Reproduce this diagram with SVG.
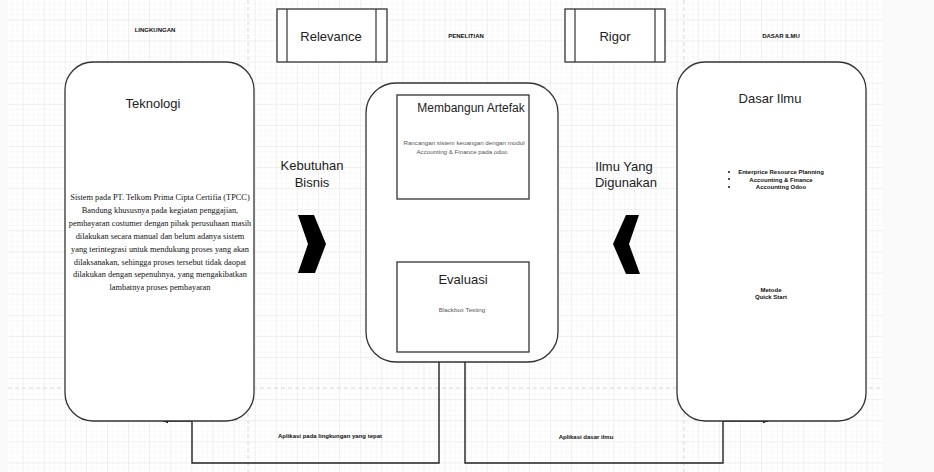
<svg xmlns="http://www.w3.org/2000/svg" width="934" height="472" viewBox="0 0 934 472">
<defs>
<pattern id="minor" patternUnits="userSpaceOnUse" x="1.5" y="-1.7" width="5.275" height="5.275">
<path d="M0 0H5.275M0 0V5.275" fill="none" stroke="#f3f3f3" stroke-width="1"/>
</pattern>
<pattern id="major" patternUnits="userSpaceOnUse" x="1.5" y="-1.7" width="21.1" height="21.1">
<path d="M0 0H21.1M0 0V21.1" fill="none" stroke="#e6e6e6" stroke-width="1"/>
</pattern>
<marker id="arr" viewBox="0 0 10 10" refX="9" refY="5" markerWidth="6" markerHeight="6" orient="auto" markerUnits="userSpaceOnUse">
<path d="M0 1L10 5L0 9Z" fill="#111"/>
</marker>
<style>
.box{fill:#fff;stroke:#333;stroke-width:1.3}
.sans{font-family:"Liberation Sans",Arial,sans-serif;text-anchor:middle}
.big{font-size:13px;fill:#222}
.mid{font-size:13px;fill:#222}
.tiny{font-size:6px;font-weight:bold;fill:#111}
.small{font-size:6.2px;fill:#555}
.serif{font-family:"Liberation Serif","Times New Roman",serif;font-size:8.35px;text-anchor:middle;fill:#111}
.conn{fill:none;stroke:#222;stroke-width:1.4}
.dash{stroke:#d8d8d8;stroke-width:1;stroke-dasharray:4 3}
</style>
</defs>
<rect width="934" height="472" fill="#fafafa"/>
<rect x="8" y="0" width="875" height="472" fill="#fff"/>
<rect x="8" y="0" width="875" height="472" fill="url(#minor)"/>
<rect x="8" y="0" width="875" height="472" fill="url(#major)"/>
<g id="pagebreaks">
<line class="dash" x1="8" y1="388" x2="883" y2="388"/>
<line class="dash" x1="248" y1="0" x2="248" y2="472"/>
<line class="dash" x1="684" y1="0" x2="684" y2="472"/>
</g>

<g id="labels-top">
<text class="sans tiny" x="155" y="32">LINGKUNGAN</text>
<text class="sans tiny" x="466" y="38">PENELITIAN</text>
<text class="sans tiny" x="781" y="38">DASAR ILMU</text>
</g>

<g id="relevance">
<rect class="box" x="277" y="9" width="110" height="53"/>
<line x1="287" y1="9" x2="287" y2="62" stroke="#333" stroke-width="1.2"/>
<line x1="376" y1="9" x2="376" y2="62" stroke="#333" stroke-width="1.2"/>
<text class="sans big" x="331" y="41">Relevance</text>
</g>

<g id="rigor">
<rect class="box" x="565" y="9" width="100" height="53"/>
<line x1="575" y1="9" x2="575" y2="62" stroke="#333" stroke-width="1.2"/>
<line x1="655" y1="9" x2="655" y2="62" stroke="#333" stroke-width="1.2"/>
<text class="sans big" x="615" y="41">Rigor</text>
</g>

<g id="connectors">
<path class="conn" d="M439 362V463H192V421H163" marker-end="url(#arr)"/>
<path class="conn" d="M465 362V463H723V421H768" marker-end="url(#arr)"/>
</g>

<g id="teknologi">
<rect class="box" x="65" y="62" width="189" height="359" rx="28" ry="28"/>
<text class="sans big" x="153" y="108">Teknologi</text>
<text class="serif" x="160" y="200">Sistem pada PT. Telkom Prima Cipta Certifia (TPCC)</text>
<text class="serif" x="160" y="213">Bandung khususnya pada kegiatan penggajian,</text>
<text class="serif" x="160" y="226">pembayaran costumer dengan pihak perusuhaan masih</text>
<text class="serif" x="160" y="239">dilakukan secara manual dan belum adanya sistem</text>
<text class="serif" x="160" y="252">yang terintegrasi untuk mendukung proses yang akan</text>
<text class="serif" x="160" y="265">dilaksanakan, sehingga proses tersebut tidak daopat</text>
<text class="serif" x="160" y="277">dilakukan dengan sepenuhnya, yang mengakibatkan</text>
<text class="serif" x="160" y="290">lambatnya proses pembayaran</text>
</g>

<g id="penelitian">
<rect class="box" x="366" y="83" width="192" height="279" rx="30" ry="30"/>
</g>

<g id="membangun">
<rect class="box" x="397" y="95" width="132" height="104"/>
<text class="sans" x="471" y="112" font-size="12" fill="#222">Membangun Artefak</text>
<text class="sans small" x="464" y="145">Rancangan sistem keuangan dengan modul</text>
<text class="sans small" x="462" y="154">Accounting &amp; Finance pada odoo</text>
</g>

<g id="evaluasi">
<rect class="box" x="397" y="262" width="132" height="90"/>
<text class="sans mid" x="463" y="284">Evaluasi</text>
<text class="sans small" x="462" y="312">Blackbox Testing</text>
</g>

<g id="dasar-ilmu">
<rect class="box" x="677" y="62" width="189" height="359" rx="28" ry="28"/>
<text class="sans big" x="770" y="103">Dasar Ilmu</text>
<circle cx="729" cy="172" r="1" fill="#111"/>
<circle cx="729" cy="179" r="1" fill="#111"/>
<circle cx="729" cy="187" r="1" fill="#111"/>
<text class="sans tiny" x="781" y="174">Enterprice Resource Planning</text>
<text class="sans tiny" x="781" y="181.5">Accounting &amp; Finance</text>
<text class="sans tiny" x="781" y="189">Accounting Odoo</text>
<text class="sans tiny" x="771" y="292">Metode</text>
<text class="sans tiny" x="771" y="299">Quick Start</text>
</g>

<g id="kebutuhan">
<text class="sans mid" x="312" y="170">Kebutuhan</text>
<text class="sans mid" x="312" y="187">Bisnis</text>
<path d="M298 215H314L326 244L315 273H298L308 244Z" fill="#000"/>
</g>

<g id="ilmu-yang">
<text class="sans mid" x="624" y="171">Ilmu Yang</text>
<text class="sans mid" x="626" y="187">Digunakan</text>
<path d="M639 215H626L613 244L626 274H640L629 244Z" fill="#000"/>
</g>

<g id="labels-bottom">
<text class="sans tiny" x="330" y="438">Aplikasi pada lingkungan yang tepat</text>
<text class="sans tiny" x="586" y="439">Aplikasi dasar ilmu</text>
</g>
</svg>
